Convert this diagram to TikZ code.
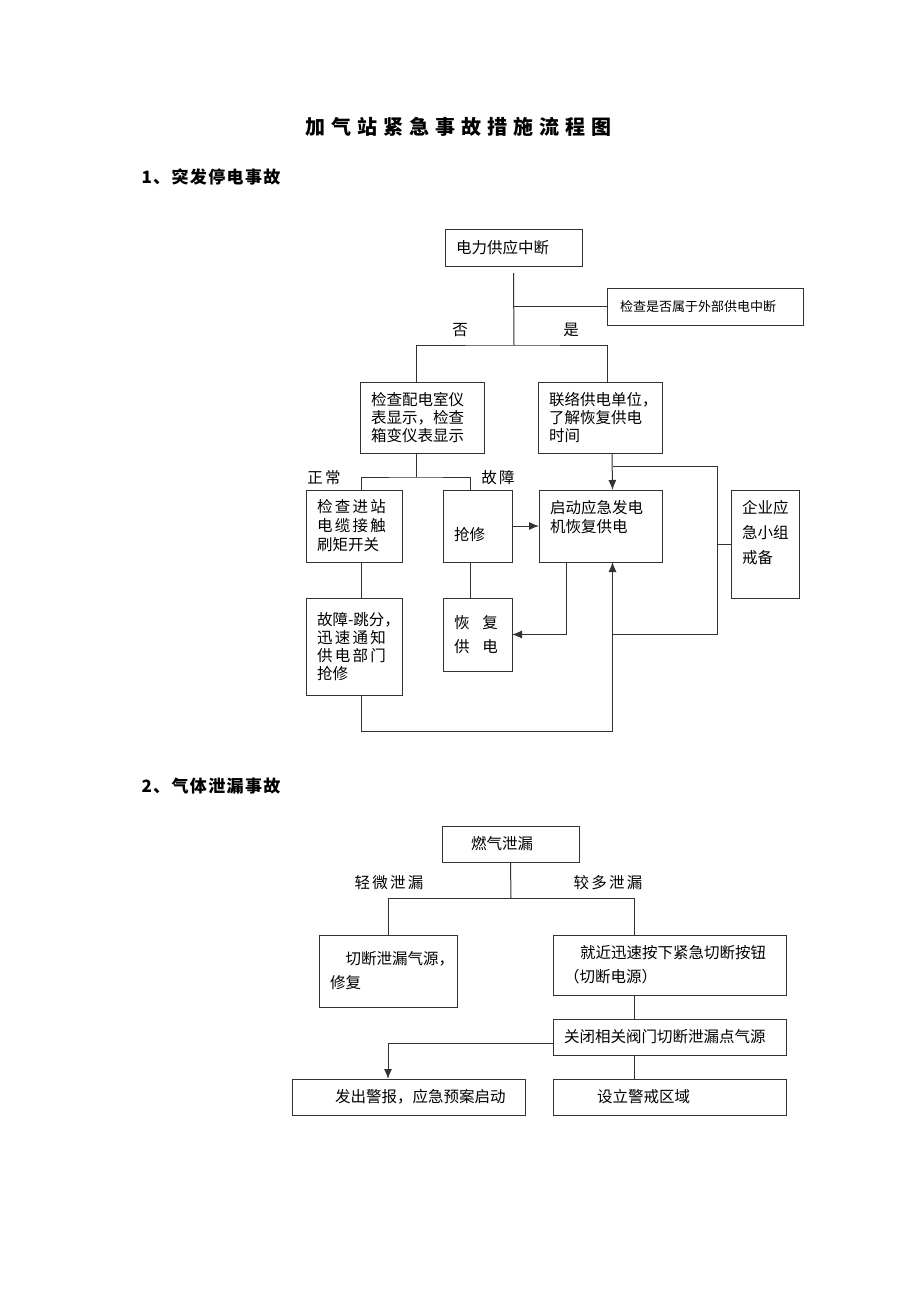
\documentclass[tikz,border=0pt]{standalone}
\usepackage{fontspec}
\setmainfont{Noto Sans CJK SC}
\usetikzlibrary{arrows.meta}

\begin{document}
\begin{tikzpicture}[>={Latex[length=10pt,width=8pt]}, x=1pt, y=-1pt,
    wire/.style={draw=black!80, line width=1pt},
    blk/.code 2 args={\pgfmathsetmacro\bw{#1-22}\edef\tmp{\noexpand\pgfkeysalso{/tikz/minimum width=#1pt,/tikz/minimum height=#2pt,/tikz/text width=\bw pt}}\tmp},
    box/.style={wire, anchor=north west, inner xsep=11pt, inner ysep=0pt, outer sep=0pt, align=left, font=\fontsize{15.5}{18}\selectfont},
    wide/.style={font=\fontsize{15.5}{24}\selectfont},
    lbl/.style={font=\fontsize{15.5}{18}\selectfont\addfontfeature{LetterSpace=15}},
    head/.style={anchor=west, font=\fontsize{17}{20}\selectfont\bfseries\addfontfeature{LetterSpace=8}}]
\useasboundingbox (0,0) rectangle (920,1302);
\node[font=\fontsize{20}{24}\selectfont\bfseries\addfontfeature{LetterSpace=30}] (ttl) at (458,127) {加气站紧急事故措施流程图};
\node[head] (h1) at (138,177) {1、突发停电事故};
\node[head] (h2) at (138,786) {2、气体泄漏事故};

\node[box, blk={137}{37}] (pw) at (445,229) {电力供应中断};
\node[box, blk={192}{37}, font=\fontsize{13}{16}\selectfont, inner xsep=13pt] (chk) at (607,288) {检查是否属于外部供电中断};
\node[box, blk={124}{71}] (mtr) at (360,382) {检查配电室仪\\表显示，检查\\箱变仪表显示};
\node[box, blk={124}{71}] (call) at (538,382) {联络供电单位，\\了解恢复供电\\时间};
\node[box, blk={96}{72}, font=\fontsize{15.5}{19}\selectfont] (cab) at (306,490) {{\addfontfeature{LetterSpace=15}检查进站}\\{\addfontfeature{LetterSpace=15}电缆接触}\\刷矩开关};
\node[box, blk={69}{72}] (rep) at (443,490) {\raisebox{-8pt}[\height][0pt]{抢修}};
\node[box, blk={123}{72}, font=\fontsize{15.5}{19}\selectfont] (gen) at (539,490) {启动应急发电\\机恢复供电\\\mbox{}};
\node[box, blk={68}{108}, font=\fontsize{15.5}{25}\selectfont] (grp) at (731,490) {企业应\\急小组\\戒备\\\mbox{}};
\node[box, blk={96}{97}] (brk) at (306,598) {\mbox{故障-跳分，}\\{\addfontfeature{LetterSpace=15}迅速通知}\\{\addfontfeature{LetterSpace=15}供电部门}\\抢修};
\node[box, blk={69}{73}, wide] (rst) at (443,598) {恢\hspace{13pt}复\\供\hspace{13pt}电};

\node[lbl] (no) at (460,330) {否};
\node[lbl] (yes) at (571,330) {是};
\node[lbl] (ok) at (324,478) {正常};
\node[lbl] (bad) at (498,478) {故障};

\coordinate (s1) at (514,345);
\coordinate (s2) at (416,477);
\coordinate (t) at ([xshift=12pt]gen.south);
\coordinate (r1) at (717,466);
\coordinate (r2) at (717,634);
\draw[wire] ([yshift=-7pt]pw.south) -- (s1);
\draw[wire] (pw.south |- chk.west) -- (chk.west);
\draw[wire] ([xshift=-6pt]mtr.north) |- (s1) -| ([xshift=7pt]call.north);
\draw[wire] ([xshift=-6pt]mtr.south) -- (s2);
\draw[wire] ([xshift=7pt]cab.north) |- (s2) -| ([xshift=-7.5pt]rep.north);
\draw[wire, ->] ([xshift=12pt]call.south) -- ([xshift=12pt]gen.north);
\draw[wire] (t |- r1) -- (r1) -- (r2) -- (t |- r2);
\draw[wire] (r1 |- grp.west) -- (grp.west);
\draw[wire, ->] (rep.east) -- (gen.west |- rep.east);
\draw[wire] ([xshift=7pt]cab.south) -- ([xshift=7pt]brk.north);
\draw[wire] ([xshift=-7.5pt]rep.south) -- ([xshift=-7.5pt]rst.north);
\draw[wire, ->] ([xshift=-34.5pt]gen.south) |- (rst.east);
\draw[wire, ->] ([xshift=7pt]brk.south) -- ++(0,36) -| (t);

\node[box, blk={137}{36}] (leak) at (442,826) {\hspace*{18pt}燃气泄漏};
\node[box, blk={138}{72}, wide] (shut) at (319,935) {\hspace*{15.5pt}切断泄漏气源，\\修复};
\node[box, blk={233}{60}, wide] (btn) at (553,935) {\hspace*{16pt}就近迅速按下紧急切断按钮\\（切断电源）};
\node[box, blk={233}{36}] (vlv) at (553,1019) {关闭相关阀门切断泄漏点气源};
\node[box, blk={233}{36}] (alm) at (292,1079) {\hspace*{32pt}发出警报，应急预案启动};
\node[box, blk={233}{36}] (zone) at (553,1079) {\hspace*{33pt}设立警戒区域};

\node[lbl] (low) at (389,883) {轻微泄漏};
\node[lbl] (high) at (608,883) {较多泄漏};

\coordinate (s5) at (511,898);
\draw[wire] (leak.south) -- (s5);
\draw[wire] (shut.north) |- (s5) -| ([xshift=-35.5pt]btn.north);
\draw[wire] ([xshift=-35.5pt]btn.south) -- ([xshift=-35.5pt]vlv.north);
\draw[wire] ([xshift=-35.5pt]vlv.south) -- ([xshift=-35.5pt]zone.north);
\draw[wire, ->] ([yshift=-6pt]vlv.west) -| ([xshift=-20.5pt]alm.north);
\end{tikzpicture}
\end{document}
